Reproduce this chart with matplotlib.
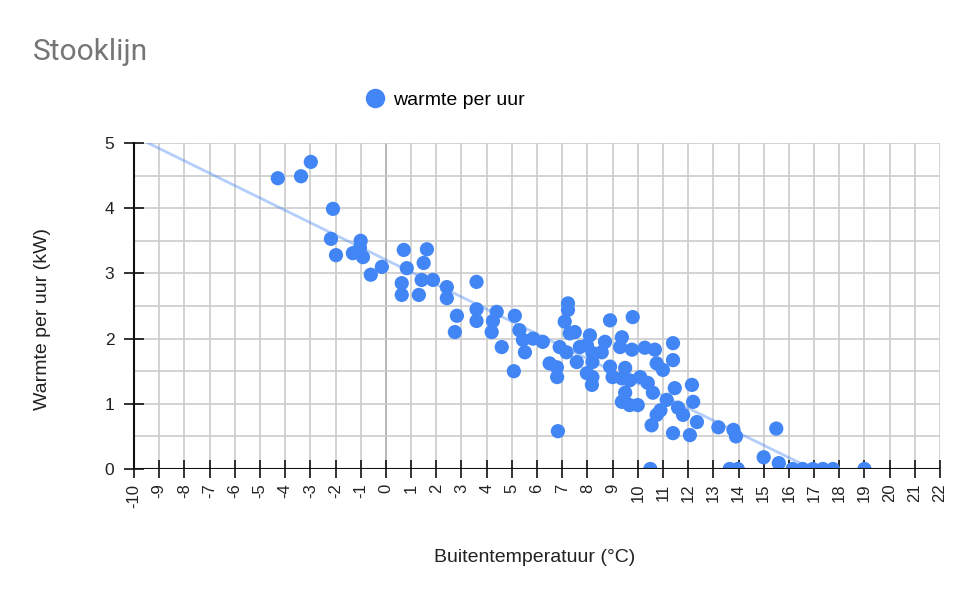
import numpy as np
import matplotlib
matplotlib.use("Agg")
import matplotlib.pyplot as plt
from matplotlib.lines import Line2D

plt.rcParams['font.family'] = ['Liberation Sans', 'DejaVu Sans']
plt.rcParams['axes.unicode_minus'] = False

# outdoor temperature (deg C) and heat per hour (kW)
temp = [
    -4.29, -3.37, -2.98, -2.10, -2.18, -1.98, -1.31, -1.00, -1.03, -0.91,
    -0.60, -0.16, 0.71, 0.83, 0.63, 0.63, 1.63, 1.50, 1.42, 1.87,
    1.31, 2.42, 2.42, 2.82, 2.74, 3.60, 3.60, 3.60, 4.40, 4.25,
    4.20, 4.60, 5.12, 5.30, 5.44, 5.52, 5.08, 5.84, 6.23, 6.50,
    6.80, 6.79, 6.83, 6.90, 7.17, 7.23, 7.23, 7.10, 7.30, 7.50,
    7.70, 7.58, 7.98, 8.10, 8.20, 7.98, 8.18, 8.20, 8.20, 8.57,
    8.70, 8.90, 8.90, 9.00, 9.30, 9.37, 9.37, 9.50, 9.50, 9.37,
    9.68, 9.68, 9.77, 9.80, 10.00, 10.10, 10.28, 10.40, 10.60, 10.55,
    10.68, 10.75, 10.75, 10.90, 11.00, 11.15, 11.40, 11.40, 11.40, 11.47,
    11.60, 11.80, 12.07, 12.15, 12.20, 12.35, 13.20, 13.80, 13.90, 15.50,
    15.00, 15.60, 10.50, 13.65, 13.97, 16.15, 16.55, 16.95, 17.35, 17.75,
    19.00,
]
heat = [
    4.46, 4.49, 4.71, 3.99, 3.53, 3.28, 3.31, 3.50, 3.39, 3.25,
    2.98, 3.10, 3.36, 3.08, 2.85, 2.67, 3.37, 3.16, 2.90, 2.90,
    2.67, 2.79, 2.62, 2.35, 2.10, 2.87, 2.45, 2.27, 2.41, 2.27,
    2.10, 1.87, 2.35, 2.13, 1.98, 1.79, 1.50, 2.00, 1.95, 1.62,
    1.41, 1.56, 0.58, 1.87, 1.79, 2.54, 2.44, 2.26, 2.08, 2.10,
    1.87, 1.64, 1.90, 2.05, 1.78, 1.47, 1.29, 1.41, 1.64, 1.79,
    1.95, 2.28, 1.57, 1.41, 1.87, 2.02, 1.39, 1.55, 1.17, 1.03,
    1.36, 0.98, 1.83, 2.33, 0.98, 1.41, 1.86, 1.32, 1.17, 0.67,
    1.83, 1.62, 0.83, 0.90, 1.52, 1.06, 1.93, 1.67, 0.55, 1.24,
    0.94, 0.83, 0.52, 1.29, 1.03, 0.72, 0.64, 0.60, 0.50, 0.62,
    0.18, 0.09, 0.00, 0.00, 0.00, 0.00, 0.00, 0.00, 0.00, 0.00,
    0.00,
]

x_ticks = list(range(-10, 23))
y_ticks = [0, 1, 2, 3, 4, 5]

blue = '#4285f4'
fig = plt.figure(figsize=(9.7, 6.0), dpi=100)
ax = fig.add_axes([134 / 970, 131 / 600, 806 / 970, 326 / 600])

ax.set_xlim(-10, 22)
ax.set_ylim(0, 5)

# grid
ax.set_xticks(x_ticks)
ax.set_yticks(y_ticks)
ax.set_yticks(np.arange(0.5, 5, 1.0), minor=True)
ax.grid(True, which='both', color='#cccccc', linewidth=1.2, zorder=0)
ax.axvline(0, color='#333333', linewidth=1.2, zorder=1)
ax.axhline(0, color='#111111', linewidth=1.5, zorder=4)

for s in ['top', 'right', 'bottom']:
    ax.spines[s].set_visible(False)
ax.spines['left'].set_color('#111111')
ax.spines['left'].set_linewidth(1.5)

ax.tick_params(axis='x', which='major', direction='inout', length=13, width=1.2,
               color='#111111', labelsize=12, labelrotation=90, pad=4,
               labelcolor='#222222')
ax.tick_params(axis='y', which='major', direction='inout', length=14.4, width=1.2,
               color='#111111', labelsize=12.5, pad=7, labelcolor='#222222')
ax.tick_params(axis='y', which='minor', length=0)
for lbl in ax.get_xticklabels():
    lbl.set_verticalalignment('top')

# trendline (least squares)
k, b = np.polyfit(temp, heat, 1)
xs = np.array([-10, 22])
ax.plot(xs, k * xs + b, color=blue, alpha=0.4, linewidth=2, zorder=2)

ax.scatter(temp, heat, s=105, color=blue, edgecolors='none', zorder=3)

ax.set_xlabel('Buitentemperatuur (°C)', fontsize=14, color='#222222', va='center')
ax.xaxis.set_label_coords((535 - 134) / 806, (469 - 557) / 326)
ax.set_ylabel('Warmte per uur (kW)', fontsize=14, color='#222222', va='center')
ax.yaxis.set_label_coords((43 - 134) / 806, 0.46)

fig.text(33 / 970, 1 - 60 / 600, 'Stooklijn', fontsize=21.5, color='#757575',
         ha='left', va='baseline', family=['Roboto', 'DejaVu Sans'])

handle = Line2D([], [], linestyle='none', marker='o', markersize=14,
                markerfacecolor=blue, markeredgecolor='none')
fig.legend([handle], ['warmte per uur'], loc='center left',
           bbox_to_anchor=(356 / 970, 1 - 100 / 600), frameon=False,
           fontsize=14, handlelength=1.0, handletextpad=0.4, borderpad=0)

fig.savefig('out.png', dpi=100)
